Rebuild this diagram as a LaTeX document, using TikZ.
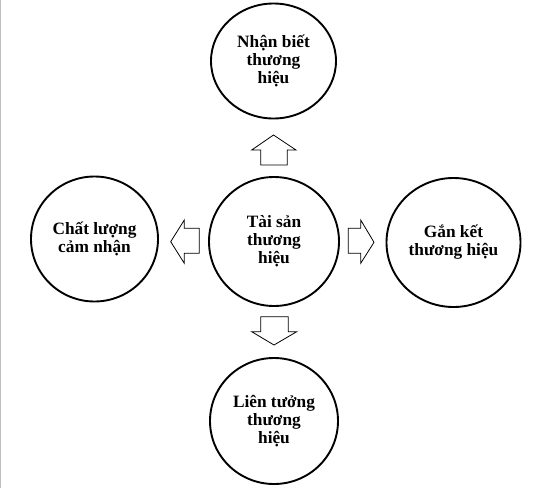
\documentclass[tikz,border=0pt]{standalone}
\usepackage{fontspec}
\setmainfont{Liberation Serif}
\usetikzlibrary{shapes.geometric}
\begin{document}
\begin{tikzpicture}[x=1pt,y=-1pt,
  bubble/.style={draw=black,line width=1.9pt,ellipse,inner sep=0pt,align=center,
    font=\fontsize{17.3}{18}\selectfont\bfseries},
  blockarrow/.style={draw=black,line width=0.8pt,fill=white,line join=miter}]
\useasboundingbox (0,0) rectangle (552,488);
\fill[white] (0,0) rectangle (552,488);
\draw[draw={rgb,255:red,190;green,190;blue,190},line width=1.2pt] (0.6,0) -- (0.6,488);

\node[bubble,minimum width=125pt,minimum height=115pt] (top) at (273.5,61) {Nhận biết\\thương\\hiệu};
\node[bubble,minimum width=130pt,minimum height=129pt] (mid) at (274,241.5) {Tài sản\\thương\\hiệu};
\node[bubble,minimum width=127pt,minimum height=125pt] (left) at (94.5,239) {Chất lượng\\cảm nhận};
\node[bubble,minimum width=134pt,minimum height=129pt] (right) at (453.5,242.5) {Gắn kết\\thương hiệu};
\node[bubble,minimum width=128pt,minimum height=126pt] (bot) at (274,421) {Liên tưởng\\thương\\hiệu};

% up arrow
\draw[blockarrow] (260.7,165) -- (260.7,150) -- (251.7,150) -- (273.5,135) -- (296,150) -- (287.3,150) -- (287.3,165) -- cycle;
% down arrow
\draw[blockarrow] (260.7,316.7) -- (260.7,331.7) -- (251.7,331.7) -- (274,345) -- (296.7,331.7) -- (288.3,331.7) -- (288.3,316.7) -- cycle;
% left arrow
\draw[blockarrow] (199.3,228.3) -- (184.3,228.3) -- (184.3,220) -- (170.7,241.7) -- (184.3,263.3) -- (184.3,253.3) -- (199.3,253.3) -- cycle;
% right arrow
\draw[blockarrow] (348.3,228.3) -- (360.7,228.3) -- (360.7,220) -- (374,242.3) -- (360.7,263.3) -- (360.7,253.3) -- (348.3,253.3) -- cycle;
\end{tikzpicture}
\end{document}
